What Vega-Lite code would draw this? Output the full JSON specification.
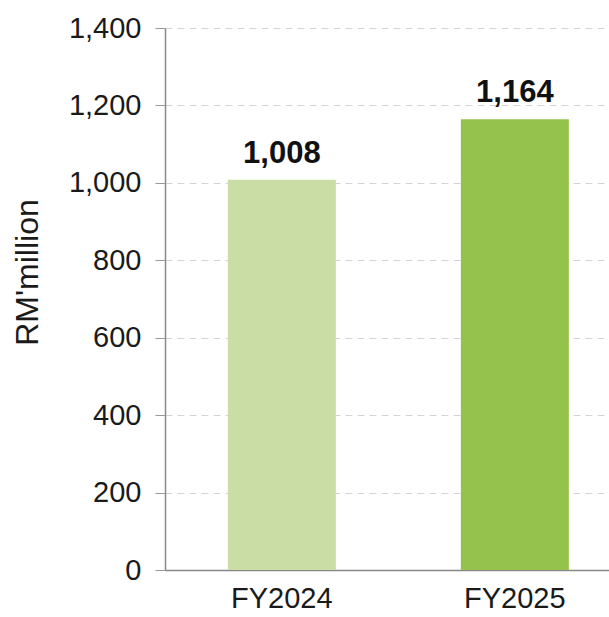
{
  "$schema": "https://vega.github.io/schema/vega-lite/v6.json",
  "width": 444,
  "height": 542,
  "autosize": {"type": "none"},
  "padding": {"left": 165, "top": 28, "right": 0, "bottom": 47},
  "background": "white",
  "config": {"view": {"stroke": null}, "font": "Liberation Sans"},
  "data": {"values": [
    {"year": "FY2024", "value": 1008},
    {"year": "FY2025", "value": 1164}
  ]},
  "encoding": {
    "x": {"field": "year", "type": "nominal", "sort": null,
      "scale": {"paddingInner": 0.5365, "paddingOuter": 0.221, "align": 0.61},
      "axis": {"title": null, "labelAngle": 0, "ticks": false, "domainColor": "#888888", "domainWidth": 1.5,
        "labelFont": "Liberation Sans", "labelFontSize": 29, "labelColor": "#1a1a1a", "labelPadding": 14}},
    "y": {"field": "value", "type": "quantitative",
      "scale": {"domain": [0, 1400], "nice": false},
      "axis": {"title": "RM'million", "values": [0, 200, 400, 600, 800, 1000, 1200, 1400], "format": ",.0f",
        "domainColor": "#888888", "domainWidth": 1.5, "tickColor": "#999999", "tickSize": 10,
        "gridColor": "#d4d4d4", "gridDash": [7, 5], "gridWidth": 1,
        "labelFont": "Liberation Sans", "labelFontSize": 29, "labelColor": "#1a1a1a", "labelPadding": 14,
        "titleFont": "Liberation Sans", "titleFontSize": 32, "titleFontWeight": "normal", "titleColor": "#1a1a1a",
        "titleX": -138, "titleY": 244, "titleAngle": -90, "titleBaseline": "middle", "titleAlign": "center"}}
  },
  "layer": [
    {"mark": {"type": "bar"},
      "encoding": {"color": {"field": "year", "type": "nominal", "legend": null,
        "scale": {"domain": ["FY2024", "FY2025"], "range": ["#c9dda4", "#95c24c"]}}}},
    {"mark": {"type": "text", "dy": -17, "baseline": "alphabetic", "font": "Liberation Sans", "fontSize": 31, "fontWeight": "bold", "color": "#111111"},
      "encoding": {"text": {"field": "value", "type": "quantitative", "format": ",.0f"}}}
  ]
}
